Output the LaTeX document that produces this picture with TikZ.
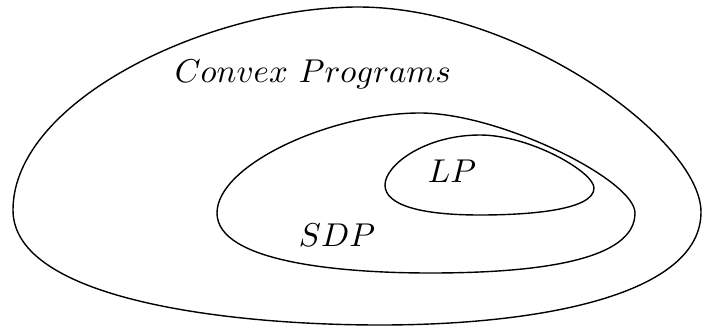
\documentclass[tikz,border=0pt]{standalone}
\begin{document}
\begin{tikzpicture}[x=1pt,y=-1pt,
  region/.style={line width=1.4pt},
  lbl/.style={inner sep=0pt, anchor=base, scale=3.3}]
\useasboundingbox (0,0) rectangle (702,327);
% outer: Convex Programs
\coordinate (oL) at (13,210);
\coordinate (oT) at (358,7);
\coordinate (oR) at (701,212);
\coordinate (oB) at (380,325);
\draw[region] (oL) .. controls (13,100) and (210,7) .. (oT)
  .. controls (520,7) and (701,140) .. (oR)
  .. controls (701,295) and (540,325) .. (oB)
  .. controls (230,325) and (13,300) .. (oL) -- cycle;
% middle: SDP
\coordinate (mL) at (217,213);
\coordinate (mT) at (420,113);
\coordinate (mR) at (635,213);
\coordinate (mB) at (430,273);
\draw[region] (mL) .. controls (217,165) and (330,113) .. (mT)
  .. controls (500,113) and (635,180) .. (mR)
  .. controls (635,260) and (540,273) .. (mB)
  .. controls (340,273) and (217,262) .. (mL) -- cycle;
% inner: LP
\coordinate (iL) at (385,185);
\coordinate (iT) at (480,135);
\coordinate (iR) at (594,188);
\coordinate (iB) at (480,215);
\draw[region] (iL) .. controls (385,165) and (425,135) .. (iT)
  .. controls (530,135) and (594,172) .. (iR)
  .. controls (594,210) and (530,215) .. (iB)
  .. controls (420,215) and (385,205) .. (iL) -- cycle;
\node[lbl] (cp) at (313,82) {$Convex\ Programs$};
\node[lbl] (lp) at (452,182) {$LP$};
\node[lbl] (sdp) at (337,246) {$SDP$};
\end{tikzpicture}
\end{document}
